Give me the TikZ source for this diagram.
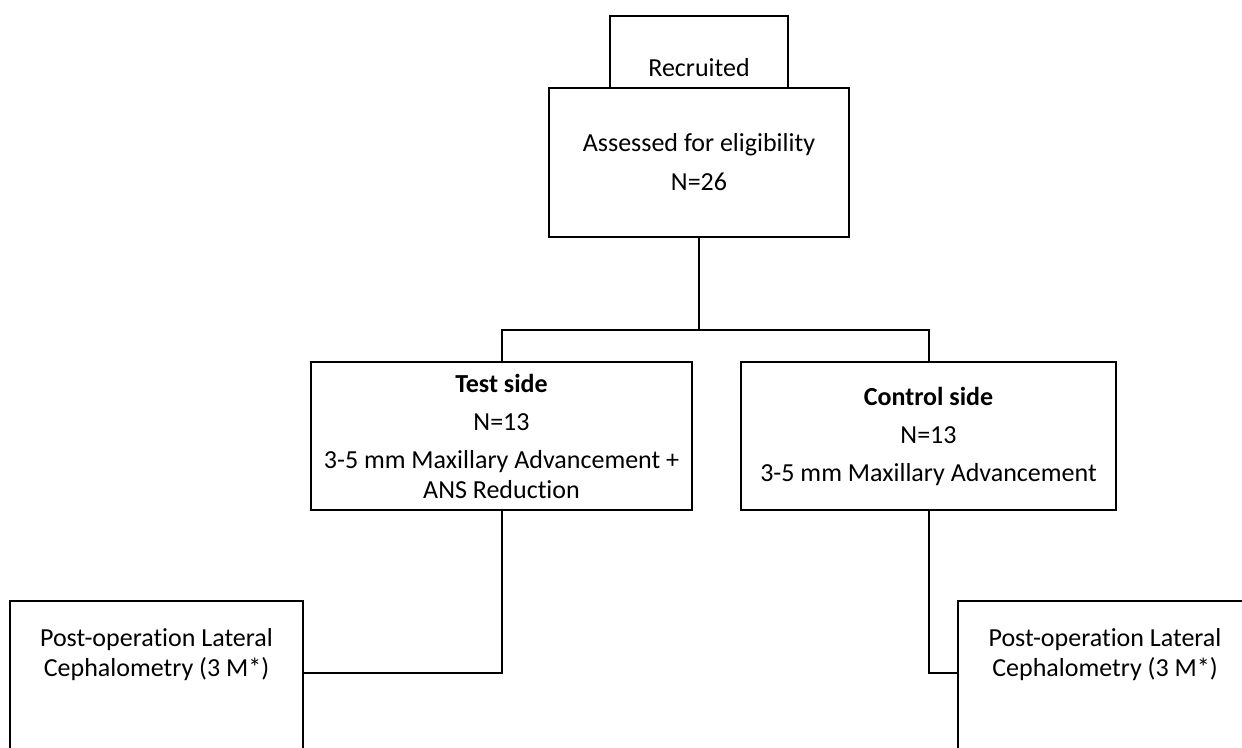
\documentclass[tikz,border=0pt]{standalone}
\usepackage{fontspec}
\setmainfont{Carlito}[RawFeature={-liga}]
\usepackage{tikz}
\usetikzlibrary{positioning}

\tikzset{
  box/.style={draw, line width=2pt, fill=white, inner sep=0pt},
  txt/.style={align=center, inner sep=0pt},
  wire/.style={line width=2pt}
}

\begin{document}
\begin{tikzpicture}[x=1pt,y=-1pt,font=\fontsize{26}{30}\selectfont]
\useasboundingbox (0,0) rectangle (1242,747);
\clip (0,0) rectangle (1242,747);
% top boxes
\node [box, minimum width=178, minimum height=104] (recr) at (699,68) {Recruited};
\node [box, txt, minimum width=300, minimum height=149] (assess) at (699,162.5)
  {Assessed for eligibility\\[9pt] N=26};
% the two sides
\node [box, txt, minimum width=381, minimum height=148] (test) at (501.5,436)
  {\textbf{Test side}\\[8pt] N=13\\[8pt] 3-5 mm Maxillary Advancement +\\ ANS Reduction};
\node [box, txt, minimum width=375, minimum height=148] (ctrl) at (928.5,436)
  {\textbf{Control side}\\[8pt] N=13\\[8pt] 3-5 mm Maxillary Advancement};
% bottom boxes (run off the page)
\node [box, minimum width=293, minimum height=180] (postL) at (156.5,691) {};
\node [txt] (postLtxt) at (156.5,655) {Post-operation Lateral\\ Cephalometry (3 M*)};
\node [box, minimum width=302, minimum height=180] (postR) at (1109,691) {};
\node [txt] (postRtxt) at (1105,655) {Post-operation Lateral\\ Cephalometry (3 M*)};
% connectors
\coordinate (bus) at (699,330);
\coordinate (lvl) at (0,673);
\draw [wire] (assess.south) -- (bus);
\draw [wire] (test.north) |- (bus) -| (ctrl.north);
\draw [wire] (test.south) |- (postL.east |- lvl);
\draw [wire] (ctrl.south) |- (postR.west |- lvl);
\end{tikzpicture}
\end{document}
